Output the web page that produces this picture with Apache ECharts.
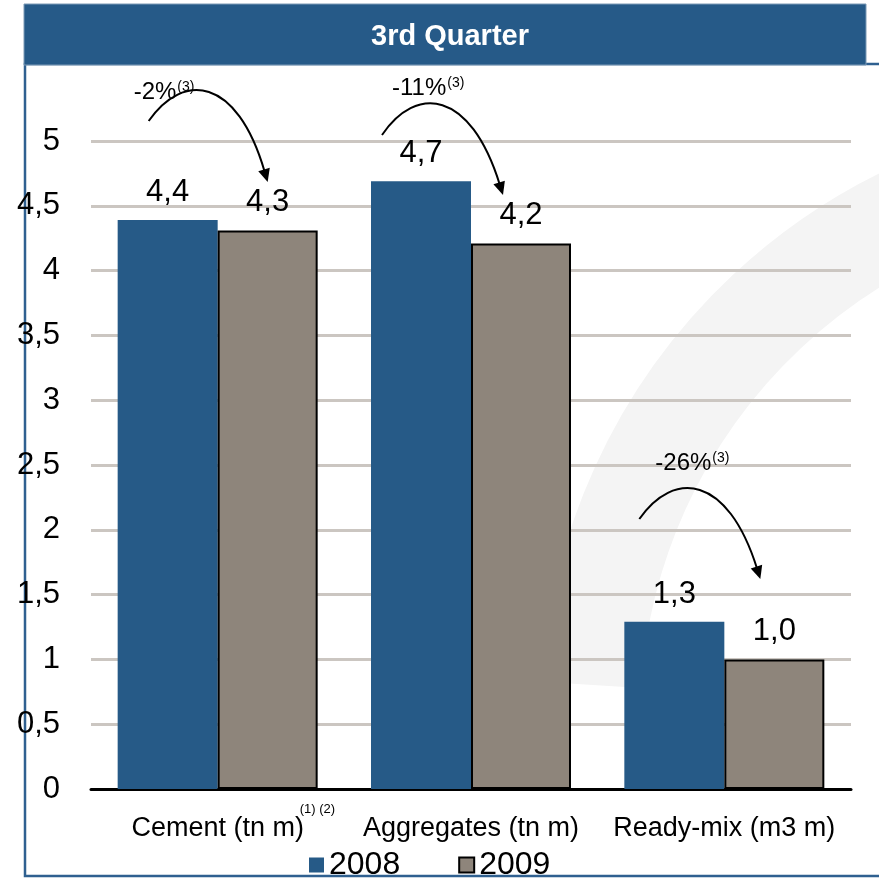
<!DOCTYPE html>
<html>
<head>
<meta charset="utf-8">
<script src="https://cdn.jsdelivr.net/npm/echarts@6/dist/echarts.min.js"></script>
<style>
  html, body { margin: 0; padding: 0; background: #fff; }
  #main { width: 879px; height: 878px; }
</style>
</head>
<body>
<div id="main"></div>
<script>
"use strict";

// data
let categories = ['Cement (tn m)', 'Aggregates (tn m)', 'Ready-mix (m3 m)'];
let seriesNames = ['2008', '2009'];
let values2008 = [4.39, 4.69, 1.29];
let values2009 = [4.31, 4.21, 1.0];
let changeLabels = ['-2%', '-11%', '-26%'];

// y 轴刻度
let yMin = 0;
let yMax = 5;
let yInterval = 0.5;

let blue = '#265a87';
let gray = '#8e857b';
let font = 'Liberation Sans, Arial, sans-serif';

function comma(v, digits) {
  return (digits == null ? String(v) : Number(v).toFixed(digits)).replace('.', ',');
}

let myChart = echarts.init(document.getElementById('main'));

let barLabel = {
  show: true,
  position: 'top',
  distance: 12,
  fontSize: 31,
  color: '#000',
  fontFamily: font,
  formatter: function (p) { return comma(p.value, 1); },
};

let option = {
  backgroundColor: '#fff',
  animation: false,
  textStyle: { fontFamily: font, color: '#000' },
  title: { // 标题
    text: '3rd Quarter',
    left: 445,
    textAlign: 'center',
    top: 17,
    textStyle: { color: '#fff', fontSize: 29, fontWeight: 'bold', fontFamily: font },
  },
  grid: {
    left: 91,
    right: 28,
    top: 141,
    bottom: 89,
  },
  legend: {
    data: seriesNames,
    left: 304,
    top: 844,
    itemWidth: 15,
    itemHeight: 15,
    itemGap: 58,
    icon: 'rect',
    textStyle: { fontSize: 32, color: '#000', fontFamily: font },
  },
  xAxis: {
    type: 'category',
    data: categories,
    axisTick: { show: false },
    axisLine: { lineStyle: { color: '#000', width: 3 } },
    axisLabel: { fontSize: 27, color: '#000', margin: 26, interval: 0, hideOverlap: false, fontFamily: font },
    splitLine: { show: false },
  },
  yAxis: {
    type: 'value',
    min: yMin,
    max: yMax,
    interval: yInterval,
    axisLine: { show: false },
    axisTick: { show: false },
    axisLabel: {
      fontSize: 31,
      color: '#000',
      margin: 31,
      fontFamily: font,
      formatter: function (v) { return comma(v); },
    },
    splitLine: { lineStyle: { color: '#cbc6c1', width: 3 } },
  },
  series: [
    {
      name: seriesNames[0],
      type: 'bar',
      data: values2008,
      barWidth: 100,
      barGap: '0%',
      itemStyle: { color: blue },
      label: barLabel,
    },
    {
      name: seriesNames[1],
      type: 'bar',
      data: values2009,
      barWidth: 100,
      itemStyle: { color: gray, borderColor: '#000', borderWidth: 2 },
      label: barLabel,
    },
  ],
};

myChart.setOption(option);

// 注释箭头 (x 相对类目中心, y 为像素)
let arrowLayout = [
  { text: [-84, 92], start: [-69, 121], peak: [-13, 90], tip: [50, 182] },
  { text: [-79, 88], start: [-89, 135], peak: [-33, 103], tip: [32, 195] },
  { text: [-69, 463], start: [-85, 519], peak: [-29, 488], tip: [36, 579] },
];

let graphics = [
  { // 背景水印
    type: 'arc',
    z: -30,
    silent: true,
    shape: { cx: 1150, cy: 720, r: 560, startAngle: Math.PI * 1.02, endAngle: Math.PI * 1.5 },
    style: { stroke: '#f4f4f4', lineWidth: 100, fill: 'none' },
  },
  { // 外框
    type: 'rect',
    z: -10,
    shape: { x: 25, y: 64, width: 870, height: 812 },
    style: { fill: 'none', stroke: '#2f6090', lineWidth: 2.5 },
  },
  { // 标题栏
    type: 'rect',
    z: -5,
    shape: { x: 24, y: 4, width: 842, height: 61 },
    style: { fill: '#265a88', stroke: '#7d9ab6', lineWidth: 1 },
  },
  { // 脚注
    type: 'text',
    x: myChart.convertToPixel({ xAxisIndex: 0 }, 0) + 82,
    y: myChart.convertToPixel({ yAxisIndex: 0 }, 0) + 14,
    style: { text: '(1) (2)', fontSize: 13, fill: '#000', fontFamily: font },
  },
];

arrowLayout.forEach(function (a, i) {
  let cx = myChart.convertToPixel({ xAxisIndex: 0 }, i);
  let s = [cx + a.start[0], a.start[1]];
  let p = [cx + a.peak[0], a.peak[1]];
  let t = [cx + a.tip[0], a.tip[1]];
  let c1 = [p[0] - 22, p[1] - 18];
  let c2 = [p[0] + 32, p[1] - 14];
  // 箭头方向
  let dx = t[0] - c2[0], dy = t[1] - c2[1];
  let len = Math.sqrt(dx * dx + dy * dy);
  let ux = dx / len, uy = dy / len;
  let head = 13, half = 6;
  let bx = t[0] - ux * head, by = t[1] - uy * head;
  graphics.push({
    type: 'bezierCurve',
    shape: {
      x1: s[0], y1: s[1], x2: bx + ux * 2, y2: by + uy * 2,
      cpx1: c1[0], cpy1: c1[1], cpx2: c2[0], cpy2: c2[1],
    },
    style: { stroke: '#000', lineWidth: 2, fill: 'none' },
  });
  graphics.push({
    type: 'polygon',
    shape: {
      points: [t, [bx - uy * half, by + ux * half], [bx + uy * half, by - ux * half]],
    },
    style: { fill: '#000' },
  });
  graphics.push({
    type: 'text',
    x: cx + a.text[0],
    y: a.text[1],
    style: {
      text: '{m|' + changeLabels[i] + '}{s|(3)}',
      verticalAlign: 'middle',
      rich: {
        m: { fontSize: 24, fill: '#000', fontFamily: font },
        s: { fontSize: 14, fill: '#000', fontFamily: font, padding: [0, 0, 10, 1] },
      },
    },
  });
});

myChart.setOption({ graphic: graphics });
</script>
</body>
</html>
